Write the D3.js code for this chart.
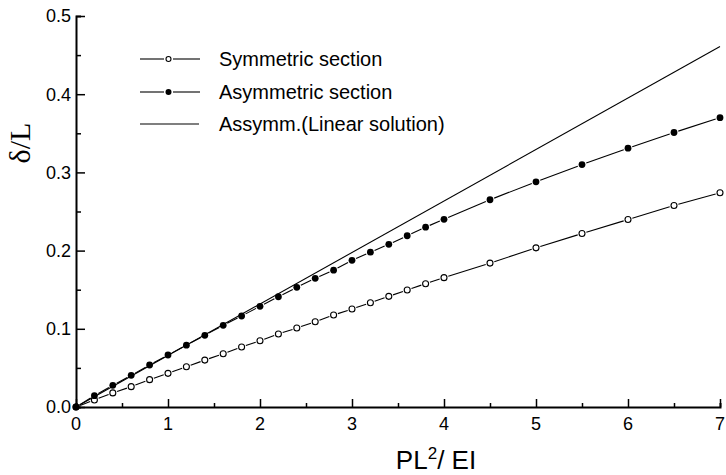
<!DOCTYPE html>
<html>
<head>
<meta charset="utf-8">
<script src="https://cdn.jsdelivr.net/npm/d3@7"></script>
<style>
  body { margin: 0; background: #fff; }
  svg { display: block; font-family: "Liberation Sans", Arial, sans-serif; }
</style>
</head>
<body>
<div id="chart"></div>
<script>
// load parameter PL^2/EI
var xValues = [0, 0.2, 0.4, 0.6, 0.8, 1.0, 1.2, 1.4, 1.6, 1.8, 2.0, 2.2, 2.4, 2.6, 2.8, 3.0,
               3.2, 3.4, 3.6, 3.8, 4.0, 4.5, 5.0, 5.5, 6.0, 6.5, 7.0];
var symmetricY = [0, 0.009, 0.018, 0.026, 0.035, 0.043, 0.0515, 0.060, 0.068, 0.0767, 0.0848,
                  0.0934, 0.101, 0.109, 0.1176, 0.1253, 0.1334, 0.1415, 0.1496, 0.1577, 0.1654,
                  0.184, 0.2035, 0.2218, 0.2397, 0.2577, 0.274];
var asymmetricY = [0, 0.0145, 0.0277, 0.0405, 0.0537, 0.0665, 0.079, 0.0917, 0.1045, 0.1164, 0.1288,
                   0.141, 0.153, 0.1646, 0.175, 0.1876, 0.198, 0.208, 0.219, 0.230, 0.240,
                   0.265, 0.288, 0.310, 0.331, 0.351, 0.370];
var linearX = [0, 7];
var linearY = [0, 0.461];
var xTicks = [0, 1, 2, 3, 4, 5, 6, 7];
var yTicks = [0, 0.1, 0.2, 0.3, 0.4, 0.5];
var legendLabels = ["Symmetric section", "Asymmetric section", "Assymm.(Linear solution)"];

var width = 726, height = 475;
var margin = {left: 76, right: 6, top: 16, bottom: 68};

var svg = d3.select("#chart").append("svg")
    .attr("width", width)
    .attr("height", height);

var x = d3.scaleLinear().domain([0, 7]).range([margin.left, width - margin.right]);
var y = d3.scaleLinear().domain([0, 0.5]).range([height - margin.bottom, margin.top]);

// axes: ticks point into the plot
var xAxis = svg.append("g").attr("transform", "translate(0," + y(0) + ")");
xAxis.call(d3.axisBottom(x).tickValues(d3.range(0, 7.01, 0.5)).tickSize(-4).tickFormat(""));
xAxis.selectAll(".tick line").filter(function(d) { return d % 1 === 0; }).attr("y2", -8);
xAxis.selectAll(".tick text").remove();
xAxis.select(".domain").attr("stroke-width", 2);
xAxis.selectAll(".tick line").attr("stroke-width", 1.5);

var yAxis = svg.append("g").attr("transform", "translate(" + x(0) + ",0)");
yAxis.call(d3.axisLeft(y).tickValues(d3.range(0, 0.501, 0.05)).tickSize(-5).tickFormat(""));
yAxis.selectAll(".tick line").filter(function(d) { return Math.abs(d * 10 - Math.round(d * 10)) < 1e-6; }).attr("x2", 9);
yAxis.select(".domain").attr("stroke-width", 2);
yAxis.selectAll(".tick line").attr("stroke-width", 1.5);

svg.append("g").selectAll("text").data(xTicks).enter().append("text")
    .attr("x", function(d) { return x(d); })
    .attr("y", y(0) + 23)
    .attr("text-anchor", "middle")
    .attr("font-size", 18)
    .text(function(d) { return d; });

svg.append("g").selectAll("text").data(yTicks).enter().append("text")
    .attr("x", x(0) - 5)
    .attr("y", function(d) { return y(d); })
    .attr("dy", "0.35em")
    .attr("text-anchor", "end")
    .attr("font-size", 18)
    .text(function(d) { return d.toFixed(1); });

// axis titles
var xt = svg.append("text")
    .attr("x", 436)
    .attr("y", 469)
    .attr("text-anchor", "middle")
    .attr("font-size", 26);
xt.append("tspan").text("PL");
xt.append("tspan").attr("font-size", 17).attr("dy", -10).text("2");
xt.append("tspan").attr("dy", 10).text("/ EI");

svg.append("text")
    .attr("transform", "translate(30,143) rotate(-90)")
    .attr("text-anchor", "middle")
    .attr("font-family", "'Liberation Serif', 'Times New Roman', serif")
    .attr("font-size", 30)
    .text("δ/L");

// line between markers, stopping short of each marker
function gappedSegments(g, xs, ys, gap) {
    var segs = [];
    for (var i = 0; i < xs.length - 1; i++) {
        var x1 = x(xs[i]), y1 = y(ys[i]), x2 = x(xs[i + 1]), y2 = y(ys[i + 1]);
        var len = Math.hypot(x2 - x1, y2 - y1);
        if (len <= 2 * gap) continue;
        var ux = (x2 - x1) / len, uy = (y2 - y1) / len;
        segs.push([x1 + ux * gap, y1 + uy * gap, x2 - ux * gap, y2 - uy * gap]);
    }
    g.selectAll("line.seg").data(segs).enter().append("line")
        .attr("class", "seg")
        .attr("x1", function(d) { return d[0]; })
        .attr("y1", function(d) { return d[1]; })
        .attr("x2", function(d) { return d[2]; })
        .attr("y2", function(d) { return d[3]; })
        .attr("stroke", "#000")
        .attr("stroke-width", 1.1);
}

var plot = svg.append("g").attr("class", "plot");

// linear solution
plot.append("path")
    .datum(d3.zip(linearX, linearY))
    .attr("d", d3.line().x(function(d) { return x(d[0]); }).y(function(d) { return y(d[1]); }))
    .attr("fill", "none")
    .attr("stroke", "#000")
    .attr("stroke-width", 1.1);

var symG = plot.append("g");
gappedSegments(symG, xValues, symmetricY, 4.5);
symG.selectAll("circle").data(d3.zip(xValues, symmetricY)).enter().append("circle")
    .attr("cx", function(d) { return x(d[0]); })
    .attr("cy", function(d) { return y(d[1]); })
    .attr("r", 3)
    .attr("fill", "#fff")
    .attr("stroke", "#000")
    .attr("stroke-width", 1.1);

var asymG = plot.append("g");
gappedSegments(asymG, xValues, asymmetricY, 4.5);
asymG.selectAll("circle").data(d3.zip(xValues, asymmetricY)).enter().append("circle")
    .attr("cx", function(d) { return x(d[0]); })
    .attr("cy", function(d) { return y(d[1]); })
    .attr("r", 3.4)
    .attr("fill", "#000");

// legend
var legendY = [59, 92, 124];
var legend = svg.append("g");
legendLabels.forEach(function(label, i) {
    var ly = legendY[i];
    if (i < 2) {
        legend.append("line").attr("x1", 140).attr("x2", 164).attr("y1", ly).attr("y2", ly)
            .attr("stroke", "#000").attr("stroke-width", 1.1);
        legend.append("line").attr("x1", 173).attr("x2", 200).attr("y1", ly).attr("y2", ly)
            .attr("stroke", "#000").attr("stroke-width", 1.1);
        if (i === 0) {
            legend.append("circle").attr("cx", 168.5).attr("cy", ly).attr("r", 2.5)
                .attr("fill", "#fff").attr("stroke", "#000").attr("stroke-width", 1.1);
        } else {
            legend.append("circle").attr("cx", 168.5).attr("cy", ly).attr("r", 3)
                .attr("fill", "#000");
        }
    } else {
        legend.append("line").attr("x1", 140).attr("x2", 199).attr("y1", ly).attr("y2", ly)
            .attr("stroke", "#000").attr("stroke-width", 1.1);
    }
    legend.append("text")
        .attr("x", 219)
        .attr("y", ly)
        .attr("dy", "0.35em")
        .attr("font-size", 20)
        .text(label);
});
</script>
</body>
</html>
